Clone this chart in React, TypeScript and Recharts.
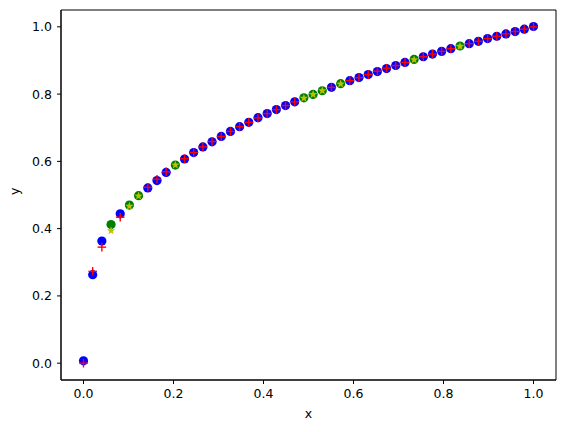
import React from 'react';
import { ScatterChart, Scatter, XAxis, YAxis, ReferenceArea } from 'recharts';

// sample positions (50 evenly spaced points on [0, 1])
const xs = [
  0, 0.0204, 0.0408, 0.0612, 0.0816, 0.102, 0.1224, 0.1429, 0.1633, 0.1837,
  0.2041, 0.2245, 0.2449, 0.2653, 0.2857, 0.3061, 0.3265, 0.3469, 0.3673, 0.3878,
  0.4082, 0.4286, 0.449, 0.4694, 0.4898, 0.5102, 0.5306, 0.551, 0.5714, 0.5918,
  0.6122, 0.6327, 0.6531, 0.6735, 0.6939, 0.7143, 0.7347, 0.7551, 0.7755, 0.7959,
  0.8163, 0.8367, 0.8571, 0.8776, 0.898, 0.9184, 0.9388, 0.9592, 0.9796, 1.0,
];

// target values (red + / yellow stars)
const trueY = [
  0, 0.273, 0.345, 0.394, 0.434, 0.467, 0.497, 0.523, 0.547, 0.569,
  0.589, 0.608, 0.626, 0.643, 0.659, 0.674, 0.689, 0.703, 0.716, 0.729,
  0.742, 0.754, 0.766, 0.777, 0.788, 0.799, 0.81, 0.82, 0.83, 0.84,
  0.849, 0.858, 0.868, 0.877, 0.885, 0.894, 0.902, 0.911, 0.919, 0.927,
  0.935, 0.942, 0.95, 0.957, 0.965, 0.972, 0.979, 0.986, 0.993, 1.0,
];

// predicted values (blue circles, green circles at training points)
const predY = [
  0.007, 0.263, 0.363, 0.412, 0.444, 0.47, 0.498, 0.521, 0.543, 0.567,
  0.589, 0.607, 0.626, 0.643, 0.658, 0.674, 0.689, 0.703, 0.716, 0.73,
  0.742, 0.754, 0.766, 0.777, 0.789, 0.799, 0.81, 0.82, 0.831, 0.84,
  0.849, 0.858, 0.867, 0.876, 0.885, 0.894, 0.903, 0.911, 0.919, 0.927,
  0.935, 0.943, 0.95, 0.957, 0.965, 0.972, 0.979, 0.986, 0.993, 1.001,
];

const trainIdx = [3, 5, 6, 10, 24, 25, 26, 28, 36, 41];

const ticks = [0, 0.2, 0.4, 0.6, 0.8, 1.0];

const isTrain = (i: number) => trainIdx.includes(i);
const predTest = xs.map((x, i) => ({ x, y: predY[i] })).filter((_, i) => !isTrain(i));
const predTrain = xs.map((x, i) => ({ x, y: predY[i] })).filter((_, i) => isTrain(i));
const trueTest = xs.map((x, i) => ({ x, y: trueY[i] })).filter((_, i) => !isTrain(i));
const trueTrain = xs.map((x, i) => ({ x, y: trueY[i] })).filter((_, i) => isTrain(i));

const FONT = 'DejaVu Sans, sans-serif';

const dot = (color: string) => (p: any) => (
  <circle cx={p.cx} cy={p.cy} r={4.6} fill={color} />
);

const plus = (p: any) => (
  <g stroke="#ff0000" strokeWidth={1.4}>
    <line x1={p.cx - 4.3} y1={p.cy} x2={p.cx + 4.3} y2={p.cy} />
    <line x1={p.cx} y1={p.cy - 4.3} x2={p.cx} y2={p.cy + 4.3} />
  </g>
);

const star = (p: any) => {
  const pts: string[] = [];
  for (let k = 0; k < 10; k++) {
    const r = k % 2 === 0 ? 4.4 : 1.8;
    const a = -Math.PI / 2 + (k * Math.PI) / 5;
    pts.push(`${p.cx + r * Math.cos(a)},${p.cy + r * Math.sin(a)}`);
  }
  return <polygon points={pts.join(' ')} fill="#bfbf00" />;
};

const fmt = (v: number) => v.toFixed(1);

export default function App() {
  return (
    <div style={{ position: 'absolute', left: 0, top: 0, background: '#fff' }}>
      <ScatterChart width={567} height={432} margin={{ top: 10, right: 11, left: 0, bottom: 0 }}>
        <XAxis
          type="number"
          dataKey="x"
          domain={[-0.05, 1.05]}
          ticks={ticks}
          tickFormatter={fmt}
          allowDataOverflow
          height={52}
          tickSize={4}
          tickMargin={5}
          stroke="#000"
          tick={{ fill: '#000', fontSize: 12.5, fontFamily: FONT }}
          label={{ value: 'x', position: 'insideBottom', offset: 14, fill: '#000', fontSize: 12.5, fontFamily: FONT }}
        />
        <YAxis
          type="number"
          dataKey="y"
          domain={[-0.05, 1.05]}
          ticks={ticks}
          tickFormatter={fmt}
          allowDataOverflow
          width={61}
          tickSize={4}
          tickMargin={5}
          stroke="#000"
          tick={{ fill: '#000', fontSize: 12.5, fontFamily: FONT }}
          label={{ value: 'y', angle: -90, position: 'insideLeft', offset: 15, fill: '#000', fontSize: 12.5, fontFamily: FONT }}
        />
        <ReferenceArea x1={-0.05} x2={1.05} y1={-0.05} y2={1.05} fill="none" stroke="#000" strokeWidth={1} />
        <Scatter data={predTest} shape={dot('#0000ff')} isAnimationActive={false} />
        <Scatter data={predTrain} shape={dot('#008000')} isAnimationActive={false} />
        <Scatter data={trueTest} shape={plus} isAnimationActive={false} />
        <Scatter data={trueTrain} shape={star} isAnimationActive={false} />
      </ScatterChart>
    </div>
  );
}
